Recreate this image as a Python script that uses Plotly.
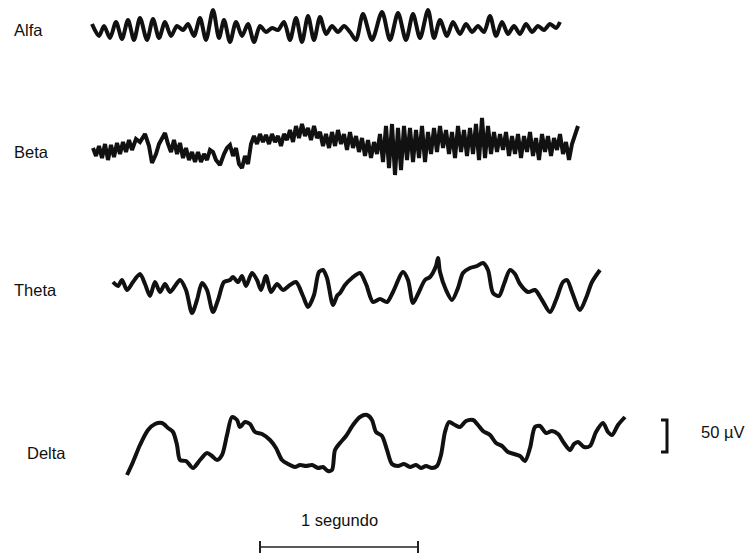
import plotly.graph_objects as go

# ---- data (x = time in display units, y = amplitude in display units) ----
alfa_x = [92, 99, 104, 110, 116, 122, 128, 134, 140, 147, 153, 159, 165, 171, 177, 183, 188, 194, 200, 206,
          213, 219, 224, 230, 236, 242, 248, 254, 260, 266, 272, 278, 284, 290, 296, 302, 308, 314, 320, 326,
          332, 338, 344, 350, 356, 363, 372, 382, 390, 398, 406, 413, 420, 428, 434, 440, 447, 453, 460, 466,
          472, 478, 484, 490, 496, 502, 508, 514, 520, 526, 532, 538, 544, 550, 556, 560]
alfa_y = [4, -8, 2, -10, 6, -11, 8, -12, 10, -12, 9, -10, 6, -8, 2, -2, 4, -8, 10, -12,
          18, -10, 8, -14, 6, -8, 4, -14, 2, -4, 0, -2, 6, -12, 10, -14, 12, -12, 11, -6,
          2, -4, 2, -4, -12, 14, -12, 16, -12, 15, -12, 14, -10, 18, -10, 8, -8, 6, -6, 4,
          -4, 2, -4, 12, -8, 6, -6, 2, -6, 4, -4, 2, -2, 4, 0, 6]

beta_x = [93, 96, 99, 102, 105, 108, 111, 114, 117, 120, 123, 126, 129, 132, 136, 140, 145, 149, 152, 156,
          159, 162, 165, 168, 171, 174, 177, 180, 183, 186, 189, 192, 195, 198, 201, 204, 207, 210, 213, 216,
          220, 224, 227, 230, 233, 236, 239, 242, 245, 248, 251, 254, 257, 260, 263, 266, 269, 272, 275, 278,
          281, 284, 287, 290, 293, 296, 299, 302, 305, 308, 311, 314, 317, 320, 323, 326, 329, 332, 335, 338,
          341, 344, 347, 350, 353, 356, 359, 362, 365, 368, 371, 374, 377, 380, 383, 386, 389, 392, 395, 398,
          401, 404, 407, 410, 413, 416, 419, 422, 425, 428, 431, 434, 437, 440, 443, 446, 449, 452, 455, 458,
          461, 464, 467, 470, 473, 476, 479, 482, 485, 488, 491, 494, 497, 500, 503, 506, 509, 512, 515, 518,
          521, 524, 527, 530, 533, 536, 539, 542, 545, 548, 551, 554, 557, 560, 563, 566, 569, 572, 575, 578]
beta_y = [0, -8, 2, -10, 4, -12, 3, -9, 5, -6, 6, -4, 8, -2, 9, 6, 14, 2, -15, -6,
          4, 10, 15, 4, -4, 8, -6, 5, -10, 0, -12, -4, -14, -4, -14, -6, -12, -2, -4, -12,
          -17, -6, 0, 3, -8, 0, -16, -20, -8, -16, 4, 12, 4, 14, 6, 13, 4, 14, 6, 12,
          2, 14, 8, 18, 6, 22, 10, 24, 12, 20, 8, 22, 10, 16, 2, 14, 0, 16, 2, 18,
          4, 14, -2, 16, 0, 12, -4, 10, -8, 8, -10, 6, -6, 14, -14, 22, -20, 24, -27, 20,
          -22, 22, -12, 20, -14, 18, -10, 22, -14, 16, -6, 20, -4, 22, 0, 18, -6, 16, -10, 22,
          -4, 18, -8, 20, -6, 24, -12, 30, -10, 22, -6, 16, -4, 14, -2, 16, -8, 12, -6, 14,
          -10, 12, -4, 16, -8, 10, -12, 14, -4, 12, -8, 10, -2, 14, -6, 6, -12, 4, 12, 22]

theta_x = [113, 118, 122, 127, 133, 140, 145, 150, 155, 160, 165, 170, 175, 180, 186, 192, 197, 202, 207, 213,
           218, 224, 230, 233, 238, 242, 246, 252, 257, 261, 266, 271, 277, 283, 290, 296, 303, 308, 314, 319,
           323, 327, 333, 337, 340, 345, 352, 360, 366, 373, 380, 387, 393, 403, 408, 413, 418, 425, 430, 436,
           438, 440, 446, 452, 458, 463, 470, 477, 483, 488, 493, 499, 504, 510, 515, 520, 528, 535, 542, 550,
           556, 563, 567, 572, 580, 586, 592, 600]
theta_y = [6, 2, 8, -2, 6, 14, 4, -8, 6, -4, 4, -4, 2, 8, -2, -25, -12, 5, -2, -24,
           -12, 6, 8, 11, 6, 12, 2, 15, 8, -2, 12, -4, 4, -2, 3, 6, -8, -19, -7, 16,
           18, 10, -17, -8, -5, 3, 10, 15, 4, -14, -11, -14, -4, 16, 8, -15, -6, 8, 11, 22,
           30, 16, -2, -12, 0, 15, 20, 22, 25, 18, -5, -8, 4, 18, 14, 4, -4, -2, -12, -24,
           -12, 6, 8, -4, -22, -10, 6, 18]

delta_x = [127, 133, 140, 148, 155, 162, 168, 173, 177, 180, 186, 193, 200, 207, 212, 217, 222, 227, 232, 237,
           240, 245, 250, 255, 262, 270, 276, 282, 288, 295, 300, 306, 312, 318, 323, 328, 332, 335, 340, 346,
           353, 360, 367, 372, 376, 382, 387, 392, 398, 404, 410, 416, 421, 426, 432, 437, 441, 445, 449, 455,
           460, 466, 473, 478, 483, 490, 496, 502, 508, 514, 520, 525, 530, 535, 540, 546, 552, 558, 564, 570,
           574, 578, 584, 590, 596, 603, 608, 612, 618, 625]
delta_y = [-27, -14, 3, 18, 24, 25, 20, 16, 3, -12, -13, -20, -12, -5, -8, -12, -7, 13, 31, 28,
           21, 26, 24, 16, 14, 8, 0, -12, -16, -19, -17, -18, -17, -20, -19, -23, -22, -2, 5, 12,
           23, 31, 33, 28, 16, 12, -2, -16, -18, -16, -19, -17, -20, -18, -20, -18, -7, 16, 26, 23,
           21, 27, 28, 23, 17, 13, 5, 2, -4, -6, -8, -13, 0, 21, 22, 15, 17, 14, 5, -2,
           4, 6, 1, 2, 16, 25, 16, 13, 23, 31]

channel_names = ["Alfa", "Beta", "Theta", "Delta"]
channel_offsets = [528, 408, 268, 108]          # vertical position of each channel baseline
label_pos = [(12, 526), (12, 404), (12, 266), (25, 103)]

units_per_second = 158    # time scale: 1 segundo
units_per_50uV = 32       # amplitude scale: 50 µV

# ---- figure ----
fig = go.Figure()
series = [(alfa_x, alfa_y, "spline"), (beta_x, beta_y, "linear"),
          (theta_x, theta_y, "spline"), (delta_x, delta_y, "spline")]
for (xs, ys, shp), off in zip(series, channel_offsets):
    fig.add_trace(go.Scatter(
        x=xs, y=[v + off for v in ys], mode="lines",
        line=dict(color="#111111", width=4, shape=shp, smoothing=0.8),
        cliponaxis=False, hoverinfo="skip", showlegend=False))

# time scale bar
sb_x0 = 260
sb_y = 9
fig.add_trace(go.Scatter(x=[sb_x0, sb_x0 + units_per_second], y=[sb_y, sb_y], mode="lines",
                         line=dict(color="#222222", width=1.6), cliponaxis=False,
                         hoverinfo="skip", showlegend=False))
for xe in [sb_x0, sb_x0 + units_per_second]:
    fig.add_trace(go.Scatter(x=[xe, xe], y=[sb_y - 6, sb_y + 6], mode="lines",
                             line=dict(color="#222222", width=2), cliponaxis=False,
                             hoverinfo="skip", showlegend=False))

# amplitude bracket
br_x = 667
br_y0 = 104
fig.add_trace(go.Scatter(x=[br_x - 6, br_x, br_x, br_x - 6],
                         y=[br_y0 + units_per_50uV, br_y0 + units_per_50uV, br_y0, br_y0],
                         mode="lines", line=dict(color="#111111", width=3), cliponaxis=False,
                         hoverinfo="skip", showlegend=False))

font = dict(family="Liberation Sans, Arial, sans-serif", size=16.5, color="#111111")
annotations = []
for name, (lx, ly) in zip(channel_names, label_pos):
    annotations.append(dict(x=lx, y=ly, text=name, showarrow=False, xanchor="left",
                            yanchor="middle", font=font))
annotations.append(dict(x=sb_x0 + units_per_second / 2, y=36, text="1 segundo", showarrow=False,
                        xanchor="center", yanchor="middle", font=font))
annotations.append(dict(x=699, y=124, text="50 µV", showarrow=False, xanchor="left",
                        yanchor="middle", font=font))

fig.update_layout(
    width=749, height=556,
    margin=dict(l=0, r=0, t=0, b=0),
    paper_bgcolor="white", plot_bgcolor="white",
    xaxis=dict(range=[0, 749], visible=False, fixedrange=True),
    yaxis=dict(range=[0, 556], visible=False, fixedrange=True),
    annotations=annotations,
    hovermode=False,
)

# remove the default page margin so the figure fills the window exactly
fig.write_html("out.html",
               config={"displayModeBar": False, "staticPlot": True},
               post_script="document.body.style.margin='0';document.body.style.overflow='hidden';")
